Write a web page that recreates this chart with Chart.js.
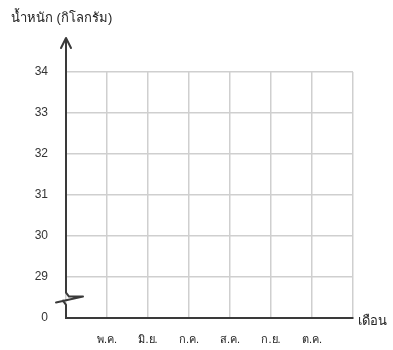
<!DOCTYPE html>
<html>
<head>
<meta charset="utf-8">
<script src="https://cdn.jsdelivr.net/npm/chart.js@4"></script>
<style>
html,body{margin:0;padding:0;background:#fff;}
#wrap{width:393px;height:350px;position:relative;}
</style>
</head>
<body>
<div id="wrap"><canvas id="c" width="393" height="350"></canvas></div>
<script>
const months = ['พ.ค.', 'มิ.ย.', 'ก.ค.', 'ส.ค.', 'ก.ย.', 'ต.ค.'];
const weightTicks = [29, 30, 31, 32, 33, 34];
const yTitle = 'น้ำหนัก (กิโลกรัม)';
const xTitle = 'เดือน';
const breakBase = 28;      // position of the axis origin (labelled 0) below the break
const originLabel = '0';

const FONT = "'Liberation Sans', Arial, 'Noto Sans', sans-serif";
const AXIS = '#3a3a3a';
const GRID = '#cfcfcf';

const decor = {
  id: 'decor',
  afterDraw(chart) {
    const ctx = chart.ctx;
    const xs = chart.scales.x, ys = chart.scales.y;
    const x0 = xs.getPixelForValue(0);
    const yTop = ys.getPixelForValue(weightTicks[weightTicks.length - 1]);
    const yBot = ys.getPixelForValue(breakBase);
    const yBrk1 = ys.getPixelForValue(breakBase + 0.62);
    const yBrk2 = ys.getPixelForValue(breakBase + 0.32);
    ctx.save();
    ctx.strokeStyle = AXIS;
    ctx.lineWidth = 2;
    ctx.lineCap = 'round';
    ctx.lineJoin = 'round';
    // y axis with arrow
    ctx.beginPath();
    ctx.moveTo(x0, yTop - 33);
    ctx.lineTo(x0, yBrk1);
    ctx.lineTo(x0 + 3, yBrk1 + 4);
    ctx.lineTo(x0 + 17, yBrk1 + 4);
    ctx.lineTo(x0 - 10, yBrk1 + 10);
    ctx.moveTo(x0 - 3, yBrk1 + 8);
    ctx.lineTo(x0, yBrk2);
    ctx.lineTo(x0, yBot);
    ctx.stroke();
    // arrow head
    ctx.beginPath();
    ctx.moveTo(x0 - 5, yTop - 24);
    ctx.lineTo(x0, yTop - 34);
    ctx.lineTo(x0 + 5, yTop - 24);
    ctx.stroke();
    // titles
    ctx.fillStyle = '#222';
    ctx.font = '13px ' + FONT;
    ctx.textAlign = 'left';
    ctx.textBaseline = 'middle';
    ctx.fillText(yTitle, 11, 18);
    ctx.font = '13px ' + FONT;
    ctx.fillText(xTitle, xs.right + 5, yBot + 3);
    ctx.restore();
  }
};

new Chart(document.getElementById('c'), {
  type: 'scatter',
  data: { datasets: [{ data: [], showLine: false }] },
  options: {
    responsive: false,
    animation: false,
    events: [],
    layout: { padding: { left: 0, right: 40, top: 72, bottom: 0 } },
    plugins: { legend: { display: false }, tooltip: { enabled: false } },
    scales: {
      x: {
        type: 'linear',
        min: 0,
        max: months.length + 1,
        afterFit(s) { s.height = 32; },
        afterBuildTicks(s) {
          s.ticks = [];
          for (let i = 0; i <= months.length + 1; i++) s.ticks.push({ value: i });
        },
        ticks: {
          autoSkip: false,
          maxRotation: 0,
          padding: 15,
          color: '#222',
          font: { family: FONT, size: 11 },
          callback(v) { return (v >= 1 && v <= months.length) ? months[v - 1] : ''; }
        },
        grid: { color: GRID, lineWidth: 1.5, drawTicks: false },
        border: { display: true, color: AXIS, width: 2 }
      },
      y: {
        type: 'linear',
        min: breakBase,
        max: weightTicks[weightTicks.length - 1],
        afterFit(s) { s.width = 66; },
        afterBuildTicks(s) {
          s.ticks = [{ value: breakBase }].concat(weightTicks.map(v => ({ value: v })));
        },
        ticks: {
          padding: 18,
          color: '#333',
          font: { family: FONT, size: 12 },
          callback(v) { return v === breakBase ? originLabel : String(v); }
        },
        grid: { color: GRID, lineWidth: 1.5, drawTicks: false },
        border: { display: false }
      }
    }
  },
  plugins: [decor]
});
</script>
</body>
</html>
